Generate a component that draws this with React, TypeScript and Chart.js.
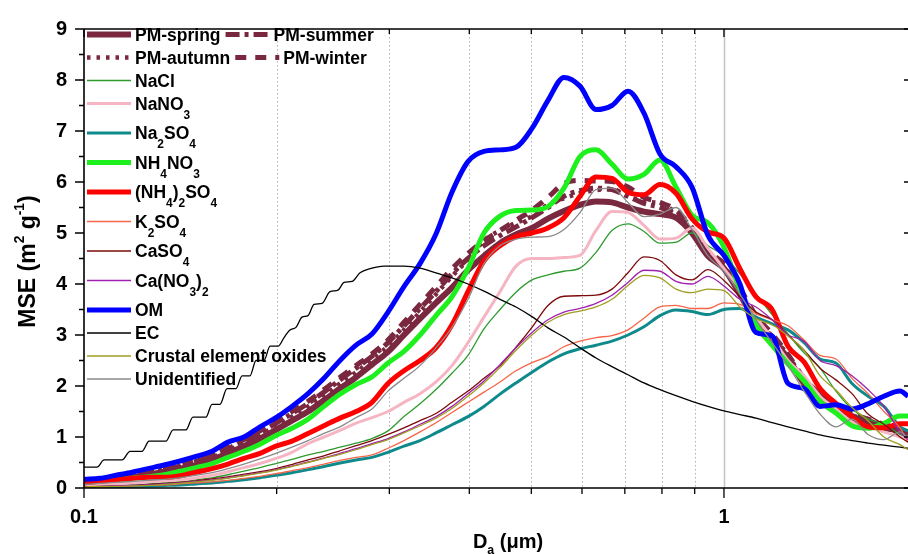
import React, { useEffect, useRef } from "react";
import { Chart, registerables } from "chart.js";

Chart.register(...registerables);

// ---------------- data ----------------
const DIAMETERS = [0.1, 0.1059, 0.1122, 0.1189, 0.1259, 0.1334, 0.1413, 0.1496, 0.1585, 0.1679, 0.1778, 0.1884, 0.1995, 0.2113, 0.2239, 0.2371, 0.2512, 0.2661, 0.2818, 0.2985, 0.3162, 0.335, 0.3548, 0.3758, 0.3981, 0.4217, 0.4467, 0.4732, 0.5012, 0.5309, 0.5623, 0.5957, 0.631, 0.6683, 0.708, 0.7499, 0.7943, 0.8414, 0.8913, 0.9441, 1.0, 1.059, 1.122, 1.189, 1.259, 1.334, 1.413, 1.496, 1.585, 1.679, 1.778, 1.884, 1.939];

const PM_SPRING = [0.12, 0.14, 0.17, 0.21, 0.26, 0.32, 0.38, 0.45, 0.55, 0.68, 0.82, 0.97, 1.14, 1.32, 1.5, 1.72, 1.95, 2.17, 2.42, 2.67, 3.0, 3.32, 3.63, 3.93, 4.27, 4.55, 4.8, 4.97, 5.1, 5.28, 5.43, 5.55, 5.62, 5.6, 5.5, 5.42, 5.37, 5.3, 5.0, 4.55, 4.3, 3.8, 3.25, 2.9, 2.55, 2.05, 1.8, 1.52, 1.38, 1.3, 1.18, 1.12, 1.05];
const PM_SUMMER = [0.14, 0.16, 0.19, 0.24, 0.29, 0.36, 0.43, 0.52, 0.63, 0.77, 0.92, 1.08, 1.27, 1.46, 1.66, 1.88, 2.12, 2.35, 2.58, 2.85, 3.18, 3.52, 3.85, 4.2, 4.5, 4.75, 4.95, 5.12, 5.3, 5.5, 5.72, 5.83, 5.88, 5.85, 5.72, 5.58, 5.5, 5.35, 5.0, 4.6, 4.32, 3.85, 3.3, 2.95, 2.58, 2.1, 1.82, 1.55, 1.42, 1.33, 1.2, 1.13, 1.06];
const PM_AUTUMN = [0.13, 0.15, 0.18, 0.23, 0.28, 0.34, 0.41, 0.5, 0.6, 0.73, 0.88, 1.04, 1.22, 1.4, 1.6, 1.82, 2.05, 2.27, 2.52, 2.78, 3.1, 3.45, 3.8, 4.15, 4.48, 4.85, 5.05, 5.2, 5.33, 5.56, 5.68, 5.78, 5.84, 5.86, 5.72, 5.62, 5.58, 5.4, 5.1, 4.62, 4.35, 3.88, 3.32, 2.98, 2.6, 2.12, 1.85, 1.6, 1.45, 1.35, 1.22, 1.15, 1.08];
const PM_WINTER = [0.15, 0.17, 0.2, 0.25, 0.3, 0.37, 0.45, 0.54, 0.65, 0.8, 0.95, 1.12, 1.3, 1.5, 1.7, 1.93, 2.17, 2.4, 2.63, 2.9, 3.25, 3.6, 3.95, 4.3, 4.6, 4.85, 5.05, 5.25, 5.45, 5.7, 5.97, 6.03, 6.02, 6.01, 5.9, 5.7, 5.6, 5.45, 5.1, 4.65, 4.4, 3.92, 3.38, 3.02, 2.62, 2.15, 1.85, 1.6, 1.45, 1.35, 1.25, 1.15, 1.1];
const NACL = [0.03, 0.04, 0.05, 0.06, 0.08, 0.1, 0.12, 0.16, 0.2, 0.26, 0.33, 0.4, 0.48, 0.56, 0.65, 0.72, 0.8, 0.88, 0.97, 1.12, 1.4, 1.65, 1.93, 2.25, 2.6, 3.12, 3.5, 3.84, 4.08, 4.18, 4.25, 4.31, 4.62, 5.05, 5.18, 5.03, 4.8, 4.82, 5.0, 4.75, 4.55, 4.2, 3.8, 3.4, 3.02, 2.65, 2.35, 1.9, 1.55, 1.35, 1.25, 1.05, 0.98];
const NANO3 = [0.05, 0.07, 0.08, 0.1, 0.12, 0.14, 0.16, 0.2, 0.25, 0.32, 0.4, 0.48, 0.58, 0.7, 0.87, 1.0, 1.13, 1.27, 1.38, 1.5, 1.68, 1.85, 2.08, 2.4, 2.85, 3.35, 3.85, 4.35, 4.5, 4.5, 4.52, 4.56, 5.05, 5.42, 5.4, 5.15, 4.88, 4.9, 5.1, 4.7, 4.3, 3.9, 3.35, 2.95, 2.5, 2.2, 1.8, 1.55, 1.3, 1.2, 1.1, 1.0, 0.95];
const NA2SO4 = [0.0, 0.01, 0.02, 0.03, 0.04, 0.05, 0.06, 0.08, 0.1, 0.13, 0.16, 0.2, 0.25, 0.3, 0.36, 0.42, 0.49, 0.55, 0.6, 0.7, 0.82, 0.93, 1.08, 1.24, 1.4, 1.6, 1.84, 2.06, 2.27, 2.47, 2.63, 2.73, 2.8, 2.88, 3.0, 3.16, 3.38, 3.49, 3.46, 3.4, 3.5, 3.52, 3.35, 3.22, 3.1, 2.85, 2.53, 2.45, 2.05, 1.8, 1.6, 1.2, 1.12];
const NH4NO3 = [0.11, 0.13, 0.16, 0.19, 0.22, 0.26, 0.33, 0.4, 0.48, 0.6, 0.72, 0.86, 1.03, 1.17, 1.35, 1.6, 1.84, 2.03, 2.18, 2.45, 2.68, 3.0, 3.38, 3.75, 4.3, 5.0, 5.33, 5.44, 5.45, 5.52, 5.88, 6.5, 6.63, 6.35, 6.06, 6.15, 6.43, 5.9, 5.35, 5.2, 4.72, 3.9, 3.2, 2.8, 2.43, 2.1, 1.7, 1.47, 1.22, 1.17, 1.27, 1.41, 1.41];
const NH42SO4 = [0.1, 0.13, 0.16, 0.19, 0.21, 0.21, 0.24, 0.31, 0.38, 0.47, 0.58, 0.68, 0.82, 0.92, 1.07, 1.22, 1.37, 1.5, 1.68, 2.05, 2.3, 2.5, 2.75, 3.2, 3.85, 4.45, 4.75, 4.93, 5.0, 5.1, 5.3, 5.72, 6.1, 6.07, 5.8, 5.75, 5.95, 5.78, 5.28, 5.02, 4.9, 4.3, 3.75, 3.5, 2.78, 2.47, 1.95, 1.66, 1.4, 1.2, 1.18, 1.26, 1.26];
const K2SO4 = [0.01, 0.02, 0.03, 0.04, 0.05, 0.06, 0.08, 0.1, 0.12, 0.15, 0.19, 0.23, 0.28, 0.34, 0.4, 0.47, 0.54, 0.6, 0.65, 0.78, 0.93, 1.1, 1.28, 1.48, 1.68, 1.88, 2.08, 2.3, 2.46, 2.58, 2.77, 2.88, 2.95, 2.99, 3.1, 3.33, 3.55, 3.58, 3.52, 3.52, 3.63, 3.6, 3.42, 3.3, 3.18, 2.9, 2.6, 2.53, 2.15, 1.85, 1.5, 1.18, 0.9];
const CASO4 = [0.02, 0.03, 0.04, 0.05, 0.07, 0.09, 0.11, 0.14, 0.18, 0.22, 0.27, 0.32, 0.38, 0.46, 0.55, 0.63, 0.73, 0.83, 0.93, 1.05, 1.18, 1.32, 1.46, 1.68, 1.9, 2.15, 2.4, 2.76, 3.15, 3.58, 3.76, 3.77, 3.78, 3.9, 4.22, 4.53, 4.46, 4.18, 4.08, 4.28, 4.07, 3.75, 3.45, 3.3, 3.0, 2.7, 2.35, 2.12, 1.85, 1.45, 1.25, 1.0, 0.9];
const CANO32 = [0.02, 0.03, 0.04, 0.05, 0.06, 0.08, 0.1, 0.13, 0.16, 0.2, 0.25, 0.3, 0.36, 0.43, 0.51, 0.59, 0.68, 0.77, 0.87, 0.97, 1.1, 1.25, 1.4, 1.6, 1.85, 2.1, 2.42, 2.75, 3.05, 3.3, 3.45, 3.52, 3.62, 3.78, 4.03, 4.27, 4.25, 4.05, 4.0, 4.15, 3.96, 3.7, 3.55, 3.3, 3.0, 2.88, 2.5, 2.4, 2.2, 1.93, 1.6, 1.1, 0.95];
const OM = [0.17, 0.19, 0.25, 0.31, 0.38, 0.45, 0.53, 0.62, 0.72, 0.9, 1.0, 1.2, 1.38, 1.6, 1.85, 2.15, 2.5, 2.8, 3.02, 3.45, 3.95, 4.4, 4.98, 5.8, 6.4, 6.6, 6.63, 6.68, 7.05, 7.6, 8.05, 7.88, 7.42, 7.5, 7.78, 7.35, 6.55, 6.3, 5.9, 4.95, 4.56, 4.0, 3.05, 2.98, 2.05, 1.95, 1.6, 1.63, 1.55, 1.65, 1.8, 1.9, 1.8];
const CRUSTAL = [0.02, 0.03, 0.03, 0.04, 0.05, 0.07, 0.09, 0.12, 0.15, 0.19, 0.24, 0.29, 0.35, 0.42, 0.5, 0.58, 0.66, 0.75, 0.85, 0.95, 1.08, 1.22, 1.37, 1.56, 1.8, 2.06, 2.36, 2.7, 3.0, 3.25, 3.4, 3.47, 3.55, 3.7, 3.97, 4.17, 4.12, 3.9, 3.83, 3.9, 3.87, 3.55, 3.32, 3.2, 2.98, 2.7, 2.2, 1.92, 1.58, 1.32, 1.0, 0.85, 0.75];
const UNIDENTIFIED = [0.07, 0.09, 0.11, 0.13, 0.15, 0.17, 0.2, 0.25, 0.3, 0.38, 0.47, 0.57, 0.68, 0.8, 0.93, 1.07, 1.2, 1.38, 1.55, 1.9, 2.15, 2.4, 2.75, 3.15, 3.7, 4.4, 4.75, 4.88, 4.92, 4.93, 5.07, 5.4, 5.85, 5.88, 5.6, 5.32, 5.37, 5.5, 5.07, 4.55, 4.25, 3.8, 3.3, 2.85, 2.4, 1.9, 1.45, 1.2, 1.35, 1.05, 0.95, 1.1, 0.98];

// EC is read at its own (denser) diameters to keep its staircase shape
const EC_DIAMETERS = [0.1, 0.1048, 0.1075, 0.1147, 0.118, 0.1232, 0.1264, 0.1343, 0.1378, 0.1443, 0.148, 0.1551, 0.1585, 0.1631, 0.1673, 0.1728, 0.1766, 0.1817, 0.1857, 0.1911, 0.1953, 0.201, 0.2054, 0.2098, 0.2144, 0.2191, 0.2239, 0.2288, 0.2355, 0.2423, 0.2494, 0.2548, 0.2623, 0.27, 0.2799, 0.2943, 0.3162, 0.335, 0.3548, 0.3758, 0.3981, 0.4217, 0.4467, 0.4732, 0.5012, 0.5309, 0.5623, 0.5957, 0.631, 0.6683, 0.708, 0.7499, 0.7943, 0.8414, 0.8913, 0.9441, 1.0, 1.059, 1.122, 1.189, 1.259, 1.334, 1.413, 1.496, 1.585, 1.679, 1.778, 1.884, 1.939];
const EC = [0.41, 0.41, 0.55, 0.55, 0.72, 0.72, 0.92, 0.92, 1.14, 1.14, 1.39, 1.39, 1.64, 1.64, 1.95, 1.95, 2.2, 2.2, 2.5, 2.5, 2.78, 2.78, 2.95, 3.1, 3.15, 3.35, 3.38, 3.6, 3.62, 3.85, 3.88, 4.03, 4.05, 4.22, 4.3, 4.35, 4.35, 4.31, 4.22, 4.12, 4.0, 3.86, 3.7, 3.55, 3.36, 3.14, 2.96, 2.75, 2.55, 2.38, 2.22, 2.06, 1.93, 1.81, 1.7, 1.6, 1.51, 1.44, 1.37, 1.28, 1.2, 1.12, 1.04, 0.98, 0.93, 0.88, 0.84, 0.8, 0.78];

const X_TICK_VALUES = [0.1, 0.2, 0.3, 0.4, 0.5, 0.6, 0.7, 0.8, 0.9, 1];
const X_TICK_LABELS = ["0.1", "", "", "", "", "", "", "", "", "1"];
const Y_TICK_VALUES = [0, 1, 2, 3, 4, 5, 6, 7, 8, 9];
const Y_TICK_LABELS = ["0", "1", "2", "3", "4", "5", "6", "7", "8", "9"];
const X_TITLE = "Dₐ (μm)";
const Y_TITLE = "MSE (m² g⁻¹)";

// ---------------- styles ----------------
const FONT = '"Liberation Sans", Arial, Helvetica, sans-serif';
const PM_COLOR = "#7a2840";

const SERIES = [
  { label: "PM-spring", xs: DIAMETERS, values: PM_SPRING, color: PM_COLOR, width: 6, dash: [] as number[] },
  { label: "PM-summer", xs: DIAMETERS, values: PM_SUMMER, color: PM_COLOR, width: 5, dash: [14, 5, 4, 5] },
  { label: "PM-autumn", xs: DIAMETERS, values: PM_AUTUMN, color: PM_COLOR, width: 4.5, dash: [3.5, 6] },
  { label: "PM-winter", xs: DIAMETERS, values: PM_WINTER, color: PM_COLOR, width: 5, dash: [11, 9] },
  { label: "NaCl", xs: DIAMETERS, values: NACL, color: "#2e9a2e", width: 1.3, dash: [] },
  { label: "NaNO₃", xs: DIAMETERS, values: NANO3, color: "#f5b5c3", width: 3, dash: [] },
  { label: "Na₂SO₄", xs: DIAMETERS, values: NA2SO4, color: "#0f8a8c", width: 3, dash: [] },
  { label: "NH₄NO₃", xs: DIAMETERS, values: NH4NO3, color: "#1ef01e", width: 5, dash: [] },
  { label: "(NH₄)₂SO₄", xs: DIAMETERS, values: NH42SO4, color: "#ff0000", width: 5, dash: [] },
  { label: "K₂SO₄", xs: DIAMETERS, values: K2SO4, color: "#f76548", width: 1.3, dash: [] },
  { label: "CaSO₄", xs: DIAMETERS, values: CASO4, color: "#7d0a0a", width: 1.3, dash: [] },
  { label: "Ca(NO₃)₂", xs: DIAMETERS, values: CANO32, color: "#a020b0", width: 1.3, dash: [] },
  { label: "OM", xs: DIAMETERS, values: OM, color: "#0000ff", width: 5, dash: [] },
  { label: "EC", xs: EC_DIAMETERS, values: EC, color: "#000000", width: 1.3, dash: [] },
  { label: "Crustal element oxides", xs: DIAMETERS, values: CRUSTAL, color: "#a09e20", width: 1.3, dash: [] },
  { label: "Unidentified", xs: DIAMETERS, values: UNIDENTIFIED, color: "#8a8a8a", width: 1.3, dash: [] },
];

// ---------------- rich text (sub/superscripts) ----------------
const SUB_MAP: Record<string, string> = { "₀": "0", "₁": "1", "₂": "2", "₃": "3", "₄": "4", "₅": "5", "₆": "6", "₇": "7", "₈": "8", "₉": "9", "ₐ": "a" };
const SUP_MAP: Record<string, string> = { "⁰": "0", "¹": "1", "²": "2", "³": "3", "⁻": "-" };

type Seg = { text: string; kind: number };
function splitRich(s: string): Seg[] {
  const out: Seg[] = [];
  for (const ch of Array.from(s)) {
    const kind = SUB_MAP[ch] !== undefined ? 1 : SUP_MAP[ch] !== undefined ? 2 : 0;
    const t = kind === 1 ? SUB_MAP[ch] : kind === 2 ? SUP_MAP[ch] : ch;
    const last = out[out.length - 1];
    if (last && last.kind === kind) last.text += t;
    else out.push({ text: t, kind });
  }
  return out;
}

type RichStyle = { small: number; subDy: number; supDy: number };
function drawRich(ctx: CanvasRenderingContext2D, s: string, x: number, y: number, size: number, st: RichStyle, draw = true): number {
  let cx = x;
  for (const seg of splitRich(s)) {
    const fs = seg.kind === 0 ? size : size * st.small;
    ctx.font = `bold ${fs}px ${FONT}`;
    const dy = seg.kind === 1 ? size * st.subDy : seg.kind === 2 ? -size * st.supDy : 0;
    if (draw) ctx.fillText(seg.text, cx, y + dy);
    cx += ctx.measureText(seg.text).width;
  }
  return cx - x;
}

// ---------------- decoration plugin ----------------
const decorPlugin = {
  id: "decor",
  beforeDatasetsDraw(chart: any) {
    const { ctx, chartArea, scales } = chart;
    const xs = scales.x;
    ctx.save();
    // vertical grid
    for (const v of X_TICK_VALUES) {
      if (v === 0.1) continue;
      const px = Math.round(xs.getPixelForValue(v)) + 0.5;
      ctx.beginPath();
      if (v === 1) {
        ctx.setLineDash([]);
        ctx.strokeStyle = "#c4c4c4";
        ctx.lineWidth = 1.5;
      } else {
        ctx.setLineDash([1.5, 2.5]);
        ctx.strokeStyle = "#b0b0b0";
        ctx.lineWidth = 1;
      }
      ctx.moveTo(px, chartArea.top);
      ctx.lineTo(px, chartArea.bottom);
      ctx.stroke();
    }
    ctx.setLineDash([]);

    // legend
    const ds = chart.data.datasets;
    const size = 17.5;
    const st: RichStyle = { small: 0.68, subDy: 0.5, supDy: 0.45 };
    const rows: number[][] = [[0, 1], [2, 3]];
    for (let i = 4; i < ds.length; i++) rows.push([i]);
    let y = 34.5;
    ctx.textAlign = "left";
    ctx.textBaseline = "alphabetic";
    for (const row of rows) {
      let x = 87;
      let hasSub = false;
      for (const idx of row) {
        const d = ds[idx];
        ctx.save();
        ctx.strokeStyle = d.borderColor;
        ctx.lineWidth = d.borderWidth;
        ctx.setLineDash(d.borderDash || []);
        ctx.lineCap = "butt";
        ctx.beginPath();
        ctx.moveTo(x, y);
        ctx.lineTo(x + 44, y);
        ctx.stroke();
        ctx.restore();
        ctx.fillStyle = "#000";
        const w = drawRich(ctx, d.label, x + 48, y + 6.3, size, st);
        if (/[₀-₉]/.test(d.label)) hasSub = true;
        x = x + 48 + w + 5;
      }
      y += hasSub ? 29.5 : 23;
    }
    ctx.restore();
  },
  afterDatasetsDraw(chart: any) {
    const { ctx, chartArea, scales } = chart;
    const xs = scales.x;
    const ys = scales.y;
    const { left, right, top, bottom } = chartArea;
    ctx.save();
    ctx.strokeStyle = "#000";
    ctx.lineWidth = 1.6;
    ctx.setLineDash([]);
    ctx.beginPath();
    ctx.moveTo(left, top);
    ctx.lineTo(left, bottom);
    ctx.moveTo(left, bottom);
    ctx.lineTo(right, bottom);
    ctx.moveTo(left, top);
    ctx.lineTo(right, top);
    ctx.stroke();

    ctx.lineWidth = 1.3;
    ctx.beginPath();
    for (let v = 0; v <= 9.001; v += 0.5) {
      const py = ys.getPixelForValue(v);
      const major = Math.abs(v - Math.round(v)) < 1e-6;
      ctx.moveTo(left - (major ? 9 : 5), py);
      ctx.lineTo(left, py);
      if (major) {
        ctx.moveTo(right - 4, py);
        ctx.lineTo(right, py);
      }
    }
    for (const v of X_TICK_VALUES) {
      const px = xs.getPixelForValue(v);
      const major = v === 0.1 || v === 1;
      ctx.moveTo(px, bottom);
      ctx.lineTo(px, bottom + (major ? 10 : 6));
      ctx.moveTo(px, top);
      ctx.lineTo(px, top + (major ? 8 : 5));
    }
    ctx.stroke();

    // axis titles
    ctx.fillStyle = "#000";
    ctx.textBaseline = "alphabetic";
    ctx.textAlign = "left";
    const xst: RichStyle = { small: 0.62, subDy: 0.3, supDy: 0.45 };
    const xSize = 20;
    const xw = drawRich(ctx, X_TITLE, 0, 0, xSize, xst, false);
    drawRich(ctx, X_TITLE, 508 - xw / 2, 548, xSize, xst);

    const yst: RichStyle = { small: 0.6, subDy: 0.3, supDy: 0.48 };
    const ySize = 23;
    const yw = drawRich(ctx, Y_TITLE, 0, 0, ySize, yst, false);
    ctx.translate(35, (top + bottom) / 2 + 3);
    ctx.rotate(-Math.PI / 2);
    drawRich(ctx, Y_TITLE, -yw / 2, 0, ySize, yst);
    ctx.restore();
  },
};

export default function App() {
  const canvasRef = useRef<HTMLCanvasElement | null>(null);

  useEffect(() => {
    const canvas = canvasRef.current;
    if (!canvas) return;
    Chart.defaults.font.family = FONT;

    const datasets = SERIES.map((s, i) => ({
      label: s.label,
      data: s.xs.map((x, j) => ({ x, y: s.values[j] })),
      borderColor: s.color,
      backgroundColor: s.color,
      borderWidth: s.width,
      borderDash: s.dash,
      borderCapStyle: "butt" as const,
      borderJoinStyle: "round" as const,
      pointRadius: 0,
      fill: false,
      cubicInterpolationMode: "monotone" as const,
      order: -i,
      clip: 0,
    }));

    const tickFont = { family: FONT, size: 20, weight: "bold" as const };

    const chart = new Chart(canvas, {
      type: "line",
      data: { datasets },
      options: {
        responsive: false,
        animation: false,
        devicePixelRatio: 1,
        events: [],
        layout: { padding: { top: 22, right: 0, left: 0, bottom: 0 } },
        plugins: { legend: { display: false }, tooltip: { enabled: false }, title: { display: false } },
        scales: {
          x: {
            type: "logarithmic",
            min: 0.1,
            max: 1.939,
            afterBuildTicks: (axis: any) => {
              axis.ticks = X_TICK_VALUES.map((v) => ({ value: v }));
            },
            afterFit: (axis: any) => {
              axis.height = 66;
            },
            grid: { display: false, drawTicks: false },
            border: { display: false },
            ticks: {
              autoSkip: false,
              maxRotation: 0,
              minRotation: 0,
              padding: 17,
              color: "#000",
              font: tickFont,
              callback: (_v: any, index: number) => X_TICK_LABELS[index] ?? "",
            },
          },
          y: {
            type: "linear",
            min: 0,
            max: 9,
            afterBuildTicks: (axis: any) => {
              axis.ticks = Y_TICK_VALUES.map((v) => ({ value: v }));
            },
            afterFit: (axis: any) => {
              axis.width = 84;
            },
            grid: { display: false, drawTicks: false },
            border: { display: false },
            ticks: {
              padding: 17,
              color: "#000",
              font: tickFont,
              callback: (_v: any, index: number) => Y_TICK_LABELS[index] ?? "",
            },
          },
        },
      },
      plugins: [decorPlugin],
    } as any);

    return () => chart.destroy();
  }, []);

  return (
    <div style={{ position: "fixed", left: 0, top: 0, width: 908, height: 554, background: "#fff" }}>
      <canvas ref={canvasRef} width={908} height={554} style={{ display: "block", width: 908, height: 554 }} />
    </div>
  );
}
